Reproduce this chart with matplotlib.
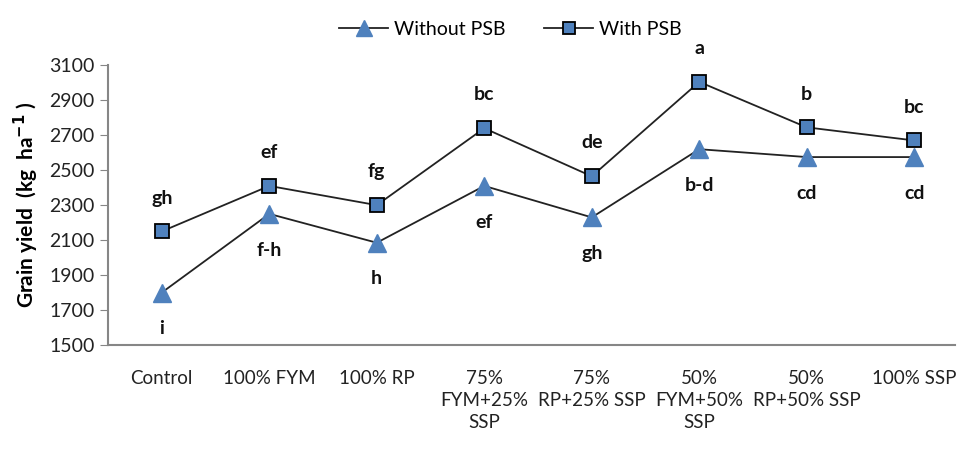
import numpy as np
import matplotlib.pyplot as plt

plt.rcParams['font.family'] = ['Lato', 'DejaVu Sans']

# Datos
categorias = ['Control', '100% FYM', '100% RP', '75%\nFYM+25%\nSSP', '75%\nRP+25% SSP',
              '50%\nFYM+50%\nSSP', '50%\nRP+50% SSP', '100% SSP']
sin_psb = [1800, 2250, 2085, 2410, 2230, 2620, 2575, 2575]
con_psb = [2150, 2410, 2300, 2740, 2465, 3005, 2745, 2670]
letras_sin = ['i', 'f-h', 'h', 'ef', 'gh', 'b-d', 'cd', 'cd']
letras_con = ['gh', 'ef', 'fg', 'bc', 'de', 'a', 'b', 'bc']
yticks = np.arange(1500, 3101, 200)

azul = '#4F81BD'
gris = '#868686'

fig = plt.figure(figsize=(9.57, 4.49), dpi=100)
ax = fig.add_axes([0.1129, 0.2316, 0.8851, 0.623])

x = np.arange(len(categorias))
ax.plot(x, sin_psb, color='#222222', lw=1.3, marker='^', markersize=13,
        markerfacecolor=azul, markeredgecolor=azul, label='Without PSB')
ax.plot(x, con_psb, color='#222222', lw=1.3, marker='s', markersize=10,
        markerfacecolor=azul, markeredgecolor='black', markeredgewidth=1.3,
        label='With PSB')

# Letras de significancia
for xi, y, t in zip(x, sin_psb, letras_sin):
    ax.annotate(t, (xi, y), xytext=(0, -26), textcoords='offset points',
                ha='center', va='center', fontsize=14, fontweight='bold',
                color='#111111')
for xi, y, t in zip(x, con_psb, letras_con):
    ax.annotate(t, (xi, y), xytext=(0, 24), textcoords='offset points',
                ha='center', va='center', fontsize=14, fontweight='bold',
                color='#111111')

ax.set_ylim(1500, 3100)
ax.set_xlim(-0.5, 7.38)
ax.set_yticks(yticks)
ax.set_xticks(x)
ax.set_xticklabels(categorias, fontsize=13.5, color='#222222', linespacing=1.35)
ax.tick_params(axis='y', labelsize=14, colors='#222222', length=6, color=gris)
ax.tick_params(axis='x', length=0, pad=18)
for s in ['top', 'right']:
    ax.spines[s].set_visible(False)
for s in ['left', 'bottom']:
    ax.spines[s].set_color(gris)
    ax.spines[s].set_linewidth(1.5)

ax.set_ylabel('Grain yield  (kg  ha$^{\\mathbf{-1}}$ )', fontsize=15,
              fontweight='bold', labelpad=6)

ax.legend(loc='center', bbox_to_anchor=(0.475, 1.128), ncol=2, frameon=False,
          fontsize=14, handlelength=2.5, columnspacing=2.0, handletextpad=0.3,
          markerscale=0.85)

fig.savefig('out.png', dpi=100)
